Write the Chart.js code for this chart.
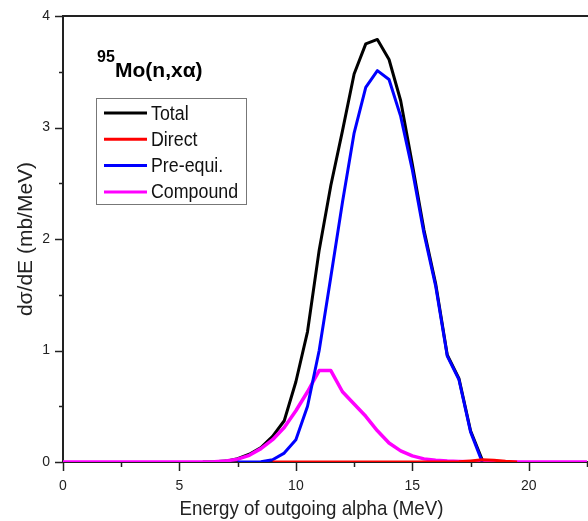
<!DOCTYPE html>
<html>
<head>
<meta charset="utf-8">
<script src="https://cdn.jsdelivr.net/npm/chart.js@4.4.0/dist/chart.umd.min.js"></script>
<style>
  body { margin: 0; background: #fff; }
  canvas { display: block; }
</style>
</head>
<body>
<canvas id="myChart" width="588" height="521"></canvas>
<script>
// 95Mo(n,x alpha) emission spectrum, components in mb/MeV
const energy = [0, 0.5, 1, 1.5, 2, 2.5, 3, 3.5, 4, 4.5, 5, 5.5, 6, 6.5, 7, 7.5, 8, 8.5, 9, 9.5,
  10, 10.5, 11, 11.5, 12, 12.5, 13, 13.5, 14, 14.5, 15, 15.5, 16, 16.5, 17, 17.5, 18, 18.5, 19, 19.5,
  20, 20.5, 21, 21.5, 22, 22.5];

const total = [null, null, null, null, null, null, null, null, null, null, null, null,
  0, 0.002, 0.008, 0.03, 0.07, 0.13, 0.23, 0.37,
  0.72, 1.17, 1.9, 2.48, 2.97, 3.48, 3.75, 3.79, 3.61, 3.24, 2.67, 2.08, 1.6, 0.96, 0.75, 0.28, 0.02,
  null, null, null, null, null, null, null, null, null];

const direct = [null, null, null, null, null, null, null, null, null, null, null, null,
  null, null, null, null, null, null, 0, 0,
  0, 0, 0, 0, 0, 0, 0, 0, 0, 0, 0, 0, 0, 0, 0.002, 0.01, 0.02, 0.016, 0.006, 0,
  null, null, null, null, null, null];

const preEqui = [null, null, null, null, null, null, null, null, null, null, null, null,
  null, null, null, 0, 0, 0.003, 0.02, 0.08,
  0.2, 0.5, 1.0, 1.66, 2.33, 2.95, 3.36, 3.51, 3.43, 3.1, 2.62, 2.05, 1.58, 0.95, 0.74, 0.27, 0,
  null, null, null, null, null, null, null, null, null];

const compound = [0, 0, 0, 0, 0, 0, 0, 0, 0, 0, 0, 0,
  0, 0.003, 0.01, 0.025, 0.06, 0.12, 0.2, 0.31,
  0.46, 0.63, 0.82, 0.82, 0.63, 0.52, 0.41, 0.28, 0.17, 0.1, 0.055, 0.028, 0.015, 0.008, 0.004, 0.002, 0,
  0, 0, 0, 0, 0, 0, 0, 0, 0];

const seriesNames = ['Total', 'Direct', 'Pre-equi.', 'Compound'];
const seriesColors = ['#000000', '#ff0000', '#0000ff', '#ff00ff'];
const xMajor = [0, 5, 10, 15, 20];
const yMajor = [0, 1, 2, 3, 4];

const FONT = 'Arial, "Liberation Sans", sans-serif';
const INK = '#222';
const SQUEEZE = 0.89;   // text is set slightly narrow

function points(values) {
  return energy.map((e, i) => ({ x: e, y: values[i] }));
}

function lineSet(label, values, color, width) {
  return {
    label: label,
    data: points(values),
    borderColor: color,
    backgroundColor: color,
    borderWidth: width,
    pointRadius: 0,
    tension: 0,
    fill: false,
    borderJoinStyle: 'round'
  };
}

// first dataset ends up drawn on top
const datasets = [
  lineSet(seriesNames[1], direct, seriesColors[1], 3),
  lineSet(seriesNames[2], preEqui, seriesColors[2], 3),
  lineSet(seriesNames[3], compound, seriesColors[3], 3.5),
  lineSet(seriesNames[0], total, seriesColors[0], 3)
];

function narrowText(ctx, text, x, y) {
  ctx.save();
  ctx.translate(x, y);
  ctx.scale(SQUEEZE, 1);
  ctx.fillText(text, 0, 0);
  ctx.restore();
}

const decorations = {
  id: 'decorations',
  afterDraw(chart) {
    const { ctx, chartArea: a, scales: { x, y } } = chart;
    ctx.save();

    // top frame line
    ctx.strokeStyle = INK;
    ctx.lineWidth = 2;
    ctx.beginPath();
    ctx.moveTo(a.left - 1, a.top);
    ctx.lineTo(a.right + 1, a.top);
    ctx.stroke();

    // outward tick marks, major longer than minor
    ctx.lineWidth = 1.5;
    x.ticks.forEach(t => {
      const px = Math.round(x.getPixelForValue(t.value)) + 0.5;
      const len = xMajor.includes(t.value) ? 9 : 5;
      ctx.beginPath();
      ctx.moveTo(px, a.bottom);
      ctx.lineTo(px, a.bottom + len);
      ctx.stroke();
    });
    y.ticks.forEach(t => {
      const py = Math.round(y.getPixelForValue(t.value)) + 0.5;
      const len = yMajor.includes(t.value) ? 8 : 4;
      ctx.beginPath();
      ctx.moveTo(a.left, py);
      ctx.lineTo(a.left - len, py);
      ctx.stroke();
    });

    // x axis title
    ctx.fillStyle = INK;
    ctx.font = '21px ' + FONT;
    ctx.textAlign = 'center';
    ctx.textBaseline = 'alphabetic';
    narrowText(ctx, 'Energy of outgoing alpha (MeV)', 311.5, 515);

    // reaction label with superscript mass number
    ctx.fillStyle = '#000';
    ctx.textAlign = 'left';
    ctx.font = 'bold 16px ' + FONT;
    ctx.fillText('95', 97, 62);
    ctx.font = 'bold 21px ' + FONT;
    ctx.fillText('Mo(n,xα)', 115, 77);

    // legend box
    ctx.strokeStyle = '#777';
    ctx.lineWidth = 1;
    ctx.strokeRect(96.5, 98.5, 150, 106);
    ctx.font = '20px ' + FONT;
    ctx.textBaseline = 'middle';
    seriesNames.forEach((name, i) => {
      const ly = 113 + i * 26.3;
      ctx.strokeStyle = seriesColors[i];
      ctx.lineWidth = 3;
      ctx.beginPath();
      ctx.moveTo(104, ly);
      ctx.lineTo(147, ly);
      ctx.stroke();
      ctx.fillStyle = '#111';
      narrowText(ctx, name, 151, ly + 1);
    });

    ctx.restore();
  }
};

new Chart(document.getElementById('myChart'), {
  type: 'line',
  data: { datasets: datasets },
  options: {
    responsive: false,
    animation: false,
    devicePixelRatio: 1,
    layout: { padding: { top: 16, right: 1, left: 0, bottom: 0 } },
    plugins: {
      legend: { display: false },
      tooltip: { enabled: false }
    },
    scales: {
      x: {
        type: 'linear',
        min: 0,
        max: 22.5,
        afterFit(scale) {
          scale.height = 59;
          scale.paddingLeft = 0;
          scale.paddingRight = 0;
        },
        grid: { drawOnChartArea: false, drawTicks: false },
        border: { display: true, color: INK, width: 2 },
        ticks: {
          stepSize: 2.5,
          autoSkip: false,
          maxRotation: 0,
          padding: 16,
          color: INK,
          font: { family: FONT, size: 14 },
          callback: v => xMajor.includes(v) ? String(v) : ''
        }
      },
      y: {
        type: 'linear',
        min: 0,
        max: 4,
        afterFit(scale) {
          scale.width = 63;
          scale.paddingTop = 0;
          scale.paddingBottom = 0;
        },
        grid: { drawOnChartArea: false, drawTicks: false },
        border: { display: true, color: INK, width: 2 },
        ticks: {
          stepSize: 0.5,
          autoSkip: false,
          padding: 13,
          color: INK,
          font: { family: FONT, size: 14 },
          callback: v => yMajor.includes(v) ? String(v) : ''
        },
        title: {
          display: true,
          text: 'dσ/dE (mb/MeV)',
          color: INK,
          font: { family: FONT, size: 21 },
          padding: { top: 14, bottom: 0 }
        }
      }
    }
  },
  plugins: [decorations]
});
</script>
</body>
</html>
